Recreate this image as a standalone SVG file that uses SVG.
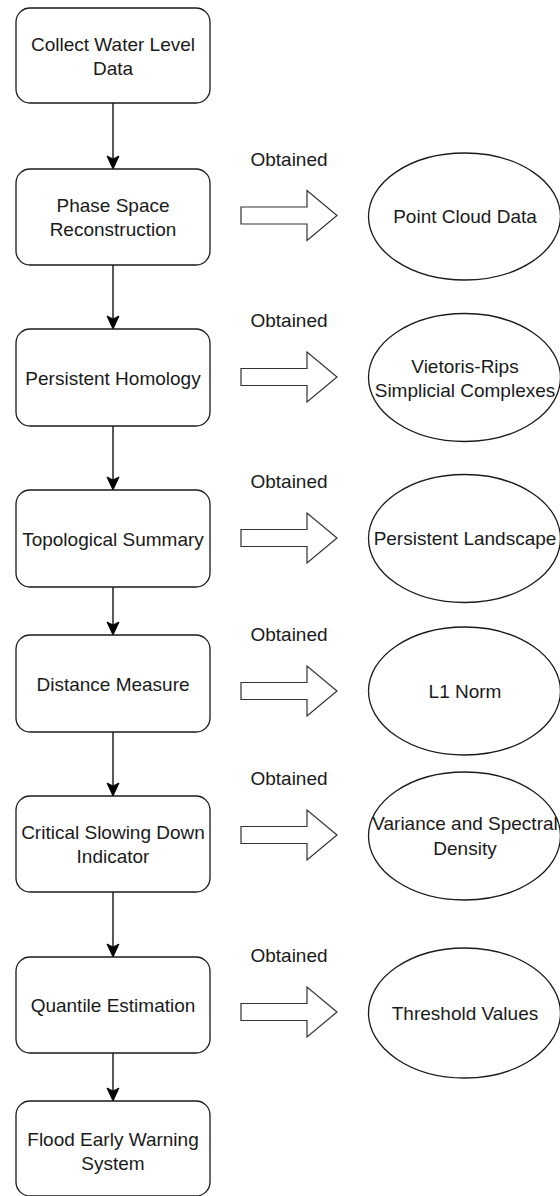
<svg xmlns="http://www.w3.org/2000/svg" xmlns:xlink="http://www.w3.org/1999/xlink" width="560" height="1196" viewBox="0 0 560 1196">
<style>
.box{fill:#ffffff;stroke:#1a1a1a;stroke-width:1.3}
.ell{fill:#ffffff;stroke:#1a1a1a;stroke-width:1.3}
.barrow{fill:#ffffff;stroke:#333333;stroke-width:1.2;stroke-linejoin:miter}
.t{font-family:"Liberation Sans",Arial,sans-serif;font-size:19px;fill:#1a1a1a;text-anchor:middle}
.edge{stroke:#000000;stroke-width:1.3;fill:none}
.head{fill:#000000;stroke:#000000;stroke-width:1}
</style>
<defs>
<path id="blk" d="M241,-8.5 H307 V-25 L337,0 L307,25 V8.5 H241 Z"/>
<path id="ah" d="M0,0 L-6,-13 L0,-10 L6,-13 Z"/>
</defs>
<rect width="560" height="1196" fill="#ffffff"/>

<g id="connectors">
<line class="edge" x1="113" y1="103" x2="113" y2="159"/>
<use xlink:href="#ah" href="#ah" class="head" x="113" y="169"/>
<line class="edge" x1="113" y1="265" x2="113" y2="319"/>
<use xlink:href="#ah" href="#ah" class="head" x="113" y="329"/>
<line class="edge" x1="113" y1="426" x2="113" y2="480"/>
<use xlink:href="#ah" href="#ah" class="head" x="113" y="490"/>
<line class="edge" x1="113" y1="587" x2="113" y2="625"/>
<use xlink:href="#ah" href="#ah" class="head" x="113" y="635"/>
<line class="edge" x1="113" y1="732" x2="113" y2="786"/>
<use xlink:href="#ah" href="#ah" class="head" x="113" y="796"/>
<line class="edge" x1="113" y1="892" x2="113" y2="947"/>
<use xlink:href="#ah" href="#ah" class="head" x="113" y="957"/>
<line class="edge" x1="113" y1="1053" x2="113" y2="1091"/>
<use xlink:href="#ah" href="#ah" class="head" x="113" y="1101"/>

<use xlink:href="#blk" href="#blk" class="barrow" transform="translate(0,215.5)"/>
<use xlink:href="#blk" href="#blk" class="barrow" transform="translate(0,377)"/>
<use xlink:href="#blk" href="#blk" class="barrow" transform="translate(0,538)"/>
<use xlink:href="#blk" href="#blk" class="barrow" transform="translate(0,691)"/>
<use xlink:href="#blk" href="#blk" class="barrow" transform="translate(0,835)"/>
<use xlink:href="#blk" href="#blk" class="barrow" transform="translate(0,1012)"/>

<text class="t" x="289" y="166">Obtained</text>
<text class="t" x="289" y="327">Obtained</text>
<text class="t" x="289" y="488">Obtained</text>
<text class="t" x="289" y="641">Obtained</text>
<text class="t" x="289" y="785">Obtained</text>
<text class="t" x="289" y="962">Obtained</text>
</g>

<g id="n1"><rect class="box" x="16" y="8" width="194" height="95" rx="14"/>
<text class="t" x="113" y="50.5">Collect Water Level</text><text class="t" x="113" y="74.5">Data</text></g>
<g id="n2"><rect class="box" x="16" y="169" width="194" height="96" rx="14"/>
<text class="t" x="113" y="212">Phase Space</text><text class="t" x="113" y="236">Reconstruction</text></g>
<g id="n3"><rect class="box" x="16" y="329" width="194" height="97" rx="14"/>
<text class="t" x="113" y="384.5">Persistent Homology</text></g>
<g id="n4"><rect class="box" x="16" y="490" width="194" height="97" rx="14"/>
<text class="t" x="113" y="545.5">Topological Summary</text></g>
<g id="n5"><rect class="box" x="16" y="635" width="194" height="97" rx="14"/>
<text class="t" x="113" y="690.5">Distance Measure</text></g>
<g id="n6"><rect class="box" x="16" y="796" width="194" height="96" rx="14"/>
<text class="t" x="113" y="839">Critical Slowing Down</text><text class="t" x="113" y="863">Indicator</text></g>
<g id="n7"><rect class="box" x="16" y="957" width="194" height="96" rx="14"/>
<text class="t" x="113" y="1012">Quantile Estimation</text></g>
<g id="n8"><rect class="box" x="16" y="1101" width="194" height="95" rx="14"/>
<text class="t" x="113" y="1146">Flood Early Warning</text><text class="t" x="113" y="1170">System</text></g>

<g id="e1"><ellipse class="ell" cx="464.5" cy="216.5" rx="96" ry="63.5"/>
<text class="t" x="465" y="223">Point Cloud Data</text></g>
<g id="e2"><ellipse class="ell" cx="464.5" cy="377.5" rx="96" ry="64"/>
<text class="t" x="465" y="373">Vietoris-Rips</text><text class="t" x="465" y="397">Simplicial Complexes</text></g>
<g id="e3"><ellipse class="ell" cx="464.5" cy="538.5" rx="96" ry="64"/>
<text class="t" x="465" y="545">Persistent Landscape</text></g>
<g id="e4"><ellipse class="ell" cx="464.5" cy="691" rx="96" ry="64"/>
<text class="t" x="465" y="697.5">L1 Norm</text></g>
<g id="e5"><ellipse class="ell" cx="464.5" cy="836" rx="96" ry="64"/>
<text class="t" x="465" y="830">Variance and Spectral</text><text class="t" x="465" y="855">Density</text></g>
<g id="e6"><ellipse class="ell" cx="464.5" cy="1013" rx="96" ry="65"/>
<text class="t" x="465" y="1020">Threshold Values</text></g>
</svg>
